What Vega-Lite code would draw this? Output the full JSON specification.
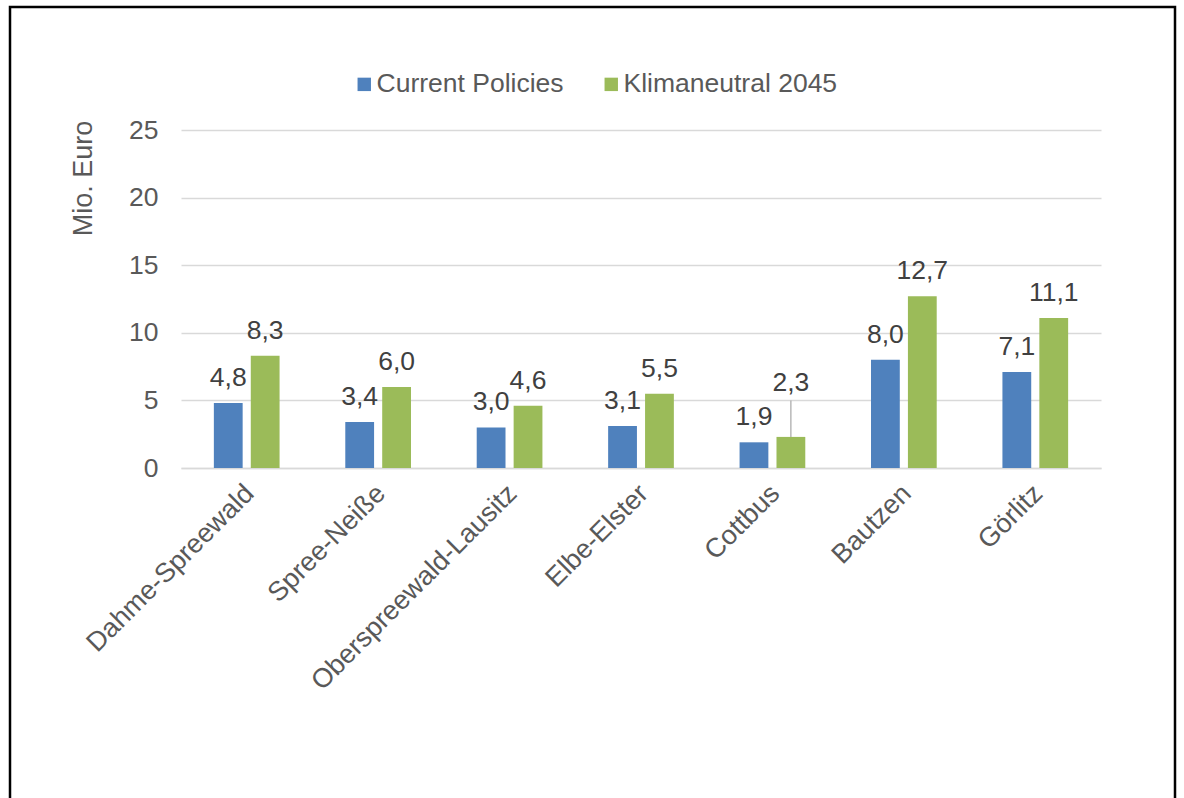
{
  "$schema": "https://vega.github.io/schema/vega-lite/v6.json",
  "width": 1165,
  "height": 797,
  "autosize": {"type": "none"},
  "padding": {"left": 10, "top": 7, "right": 9, "bottom": -6},
  "background": "#ffffff",
  "config": {
    "font": "Liberation Sans",
    "locale": {"number": {"decimal": ",", "thousands": ".", "grouping": [3], "currency": ["", " €"]}},
    "view": {"stroke": "#000000", "strokeWidth": 2.5}
  },
  "data": {
    "values": [
      {"Region": "Dahme-Spreewald", "Szenario": "Current Policies", "Wert": 4.8},
      {"Region": "Dahme-Spreewald", "Szenario": "Klimaneutral 2045", "Wert": 8.3},
      {"Region": "Spree-Neiße", "Szenario": "Current Policies", "Wert": 3.4},
      {"Region": "Spree-Neiße", "Szenario": "Klimaneutral 2045", "Wert": 6.0},
      {"Region": "Oberspreewald-Lausitz", "Szenario": "Current Policies", "Wert": 3.0},
      {"Region": "Oberspreewald-Lausitz", "Szenario": "Klimaneutral 2045", "Wert": 4.6},
      {"Region": "Elbe-Elster", "Szenario": "Current Policies", "Wert": 3.1},
      {"Region": "Elbe-Elster", "Szenario": "Klimaneutral 2045", "Wert": 5.5},
      {"Region": "Cottbus", "Szenario": "Current Policies", "Wert": 1.9},
      {"Region": "Cottbus", "Szenario": "Klimaneutral 2045", "Wert": 2.3},
      {"Region": "Bautzen", "Szenario": "Current Policies", "Wert": 8.0},
      {"Region": "Bautzen", "Szenario": "Klimaneutral 2045", "Wert": 12.7},
      {"Region": "Görlitz", "Szenario": "Current Policies", "Wert": 7.1},
      {"Region": "Görlitz", "Szenario": "Klimaneutral 2045", "Wert": 11.1}
    ]
  },
  "encoding": {
    "x": {
      "field": "Region", "type": "nominal", "sort": null,
      "scale": {"range": [171, 1091], "paddingInner": 0.5, "paddingOuter": 0.25},
      "axis": {
        "title": null, "orient": "bottom", "offset": -336,
        "labelAngle": -45, "labelAlign": "right", "labelBaseline": "middle",
        "labelFontSize": 27, "labelColor": "#595959", "labelPadding": 21, "labelOffset": 3, "labelLimit": 0,
        "ticks": false, "tickSize": 0, "domainColor": "#d9d9d9", "domainWidth": 1.5, "grid": false
      }
    },
    "xOffset": {
      "field": "Szenario", "type": "nominal",
      "sort": ["Current Policies", "Klimaneutral 2045"],
      "scale": {"paddingInner": 0.22, "paddingOuter": 0}
    },
    "y": {
      "field": "Wert", "type": "quantitative",
      "scale": {"domain": [0, 25], "range": [461, 123], "nice": false},
      "axis": {
        "title": "Mio. Euro", "orient": "left", "offset": -171,
        "values": [0, 5, 10, 15, 20, 25],
        "domain": false, "ticks": false, "tickSize": 0,
        "labelFontSize": 26.5, "labelColor": "#595959", "labelPadding": 23,
        "gridColor": "#d9d9d9", "gridWidth": 1.5,
        "titleFontSize": 27, "titleFontWeight": "normal", "titleColor": "#595959",
        "titleAngle": 270, "titleX": -98, "titleY": 171,
        "titleAlign": "center", "titleBaseline": "middle"
      }
    }
  },
  "layer": [
    {
      "mark": {"type": "bar"},
      "encoding": {
        "color": {
          "field": "Szenario", "type": "nominal",
          "scale": {"domain": ["Current Policies", "Klimaneutral 2045"], "range": ["#4F81BD", "#9BBB59"]},
          "legend": {
            "title": null, "orient": "none", "direction": "horizontal",
            "legendX": 341, "legendY": 64,
            "symbolType": "square", "symbolSize": 180, "symbolStrokeWidth": 0, "symbolOpacity": 1,
            "labelFontSize": 26.5, "labelColor": "#595959", "labelOffset": -1, "labelLimit": 0,
            "columnPadding": 34, "padding": 0
          }
        }
      }
    },
    {
      "transform": [{"filter": "!(datum.Region === 'Cottbus' && datum.Szenario === 'Klimaneutral 2045')"}],
      "mark": {"type": "text", "baseline": "alphabetic", "dy": -17, "fontSize": 26.5, "color": "#404040"},
      "encoding": {"text": {"field": "Wert", "type": "quantitative", "format": ".1f"}}
    },
    {
      "transform": [{"filter": "datum.Region === 'Cottbus' && datum.Szenario === 'Klimaneutral 2045'"}],
      "mark": {"type": "rule", "color": "#a6a6a6", "strokeWidth": 1.2, "y2Offset": -36.5},
      "encoding": {"y2": {"field": "Wert"}}
    },
    {
      "transform": [{"filter": "datum.Region === 'Cottbus' && datum.Szenario === 'Klimaneutral 2045'"}],
      "mark": {"type": "text", "baseline": "alphabetic", "dy": -46, "fontSize": 26.5, "color": "#404040"},
      "encoding": {"text": {"field": "Wert", "type": "quantitative", "format": ".1f"}}
    }
  ]
}
